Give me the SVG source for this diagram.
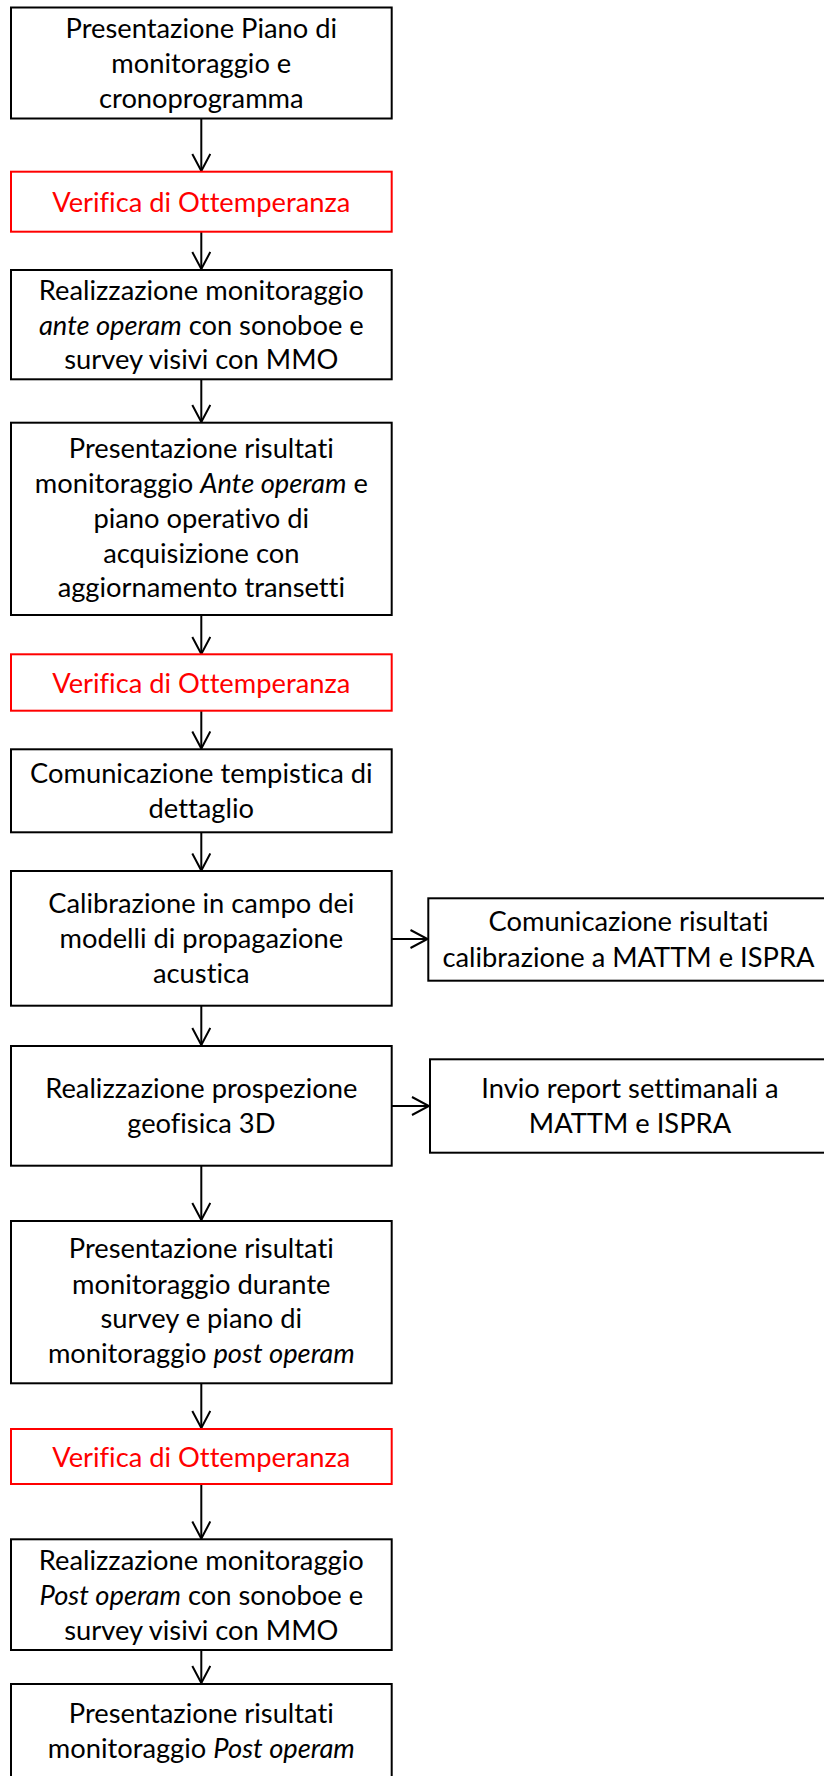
<svg xmlns="http://www.w3.org/2000/svg" width="824" height="1776" viewBox="0 0 824 1776">
<style>
.box{fill:#fff;stroke:#000;stroke-width:2}
.red{fill:#fff;stroke:#ff0000;stroke-width:2}
text{font-family:Lato,"Liberation Sans",sans-serif;font-size:27.3px;fill:#000;text-anchor:middle;font-variant-ligatures:none;font-feature-settings:"liga" 0,"clig" 0}
.rt{fill:#ff0000}
.i{font-style:italic}
.c{fill:none;stroke:#000;stroke-width:2}
</style>
<defs>
<marker id="ah" viewBox="0 0 20 20" refX="18" refY="10" markerWidth="20" markerHeight="20" markerUnits="userSpaceOnUse" orient="auto">
<path d="M1,1 L18,10 L1,19" fill="none" stroke="#000" stroke-width="2"/>
</marker>
</defs>
<g id="connectors">
<line class="c" x1="201.3" y1="118" x2="201.3" y2="171" marker-end="url(#ah)"/>
<line class="c" x1="201.3" y1="232" x2="201.3" y2="269" marker-end="url(#ah)"/>
<line class="c" x1="201.3" y1="379" x2="201.3" y2="422" marker-end="url(#ah)"/>
<line class="c" x1="201.3" y1="615" x2="201.3" y2="654" marker-end="url(#ah)"/>
<line class="c" x1="201.3" y1="711" x2="201.3" y2="748.5" marker-end="url(#ah)"/>
<line class="c" x1="201.3" y1="832" x2="201.3" y2="870.5" marker-end="url(#ah)"/>
<line class="c" x1="201.3" y1="1006" x2="201.3" y2="1045" marker-end="url(#ah)"/>
<line class="c" x1="201.3" y1="1166" x2="201.3" y2="1220" marker-end="url(#ah)"/>
<line class="c" x1="201.3" y1="1383" x2="201.3" y2="1428" marker-end="url(#ah)"/>
<line class="c" x1="201.3" y1="1484" x2="201.3" y2="1538.5" marker-end="url(#ah)"/>
<line class="c" x1="201.3" y1="1650" x2="201.3" y2="1683" marker-end="url(#ah)"/>
<line class="c" x1="391.7" y1="939" x2="427.5" y2="939" marker-end="url(#ah)"/>
<line class="c" x1="391.7" y1="1106" x2="429" y2="1106" marker-end="url(#ah)"/>
</g>
<g id="n1">
<rect class="box" x="11" y="7.5" width="380.7" height="111"/>
<text x="201.3" y="37.7">Presentazione Piano di</text>
<text x="201.3" y="73">monitoraggio e</text>
<text x="201.3" y="108">cronoprogramma</text>
</g>
<g id="n2">
<rect class="red" x="11" y="171.7" width="380.7" height="60"/>
<text class="rt" x="201.3" y="211.7">Verifica di Ottemperanza</text>
</g>
<g id="n3">
<rect class="box" x="11" y="270" width="380.7" height="109.3"/>
<text x="201.3" y="300">Realizzazione monitoraggio</text>
<text x="201.3" y="334.5"><tspan class="i">ante operam</tspan> con sonoboe e</text>
<text x="201.3" y="369.3">survey visivi con MMO</text>
</g>
<g id="n4">
<rect class="box" x="11" y="422.7" width="380.7" height="192.3"/>
<text x="201.3" y="458.3">Presentazione risultati</text>
<text x="201.3" y="493.3">monitoraggio <tspan class="i">Ante operam</tspan> e</text>
<text x="201.3" y="528.3">piano operativo di</text>
<text x="201.3" y="563.3">acquisizione con</text>
<text x="201.3" y="597">aggiornamento transetti</text>
</g>
<g id="n5">
<rect class="red" x="11" y="654.3" width="380.7" height="56.4"/>
<text class="rt" x="201.3" y="692.7">Verifica di Ottemperanza</text>
</g>
<g id="n6">
<rect class="box" x="11" y="749.3" width="380.7" height="83"/>
<text x="201.3" y="782.7">Comunicazione tempistica di</text>
<text x="201.3" y="817.7">dettaglio</text>
</g>
<g id="n7">
<rect class="box" x="11" y="871" width="380.7" height="134.7"/>
<text x="201.3" y="912.7">Calibrazione in campo dei</text>
<text x="201.3" y="948.3">modelli di propagazione</text>
<text x="201.3" y="983.3">acustica</text>
</g>
<g id="n8">
<rect class="box" x="428.3" y="898.3" width="400" height="82.4"/>
<text x="628.5" y="931">Comunicazione risultati</text>
<text x="628.5" y="966.7">calibrazione a MATTM e ISPRA</text>
</g>
<g id="n9">
<rect class="box" x="11" y="1046" width="380.7" height="119.7"/>
<text x="201.3" y="1098.3">Realizzazione prospezione</text>
<text x="201.3" y="1132.7">geofisica 3D</text>
</g>
<g id="n10">
<rect class="box" x="430" y="1059.3" width="400" height="93.4"/>
<text x="630" y="1098.3">Invio report settimanali a</text>
<text x="630" y="1133.3">MATTM e ISPRA</text>
</g>
<g id="n11">
<rect class="box" x="11" y="1221" width="380.7" height="162.3"/>
<text x="201.3" y="1258.3">Presentazione risultati</text>
<text x="201.3" y="1294">monitoraggio durante</text>
<text x="201.3" y="1328.3">survey e piano di</text>
<text x="201.3" y="1363.3">monitoraggio <tspan class="i">post operam</tspan></text>
</g>
<g id="n12">
<rect class="red" x="11" y="1429" width="380.7" height="55"/>
<text class="rt" x="201.3" y="1466.7">Verifica di Ottemperanza</text>
</g>
<g id="n13">
<rect class="box" x="11" y="1539.3" width="380.7" height="110.7"/>
<text x="201.3" y="1570">Realizzazione monitoraggio</text>
<text x="201.3" y="1605"><tspan class="i">Post operam</tspan> con sonoboe e</text>
<text x="201.3" y="1640">survey visivi con MMO</text>
</g>
<g id="n14">
<rect class="box" x="11" y="1684" width="380.7" height="100"/>
<text x="201.3" y="1723.3">Presentazione risultati</text>
<text x="201.3" y="1758.3">monitoraggio <tspan class="i">Post operam</tspan></text>
</g>
</svg>
